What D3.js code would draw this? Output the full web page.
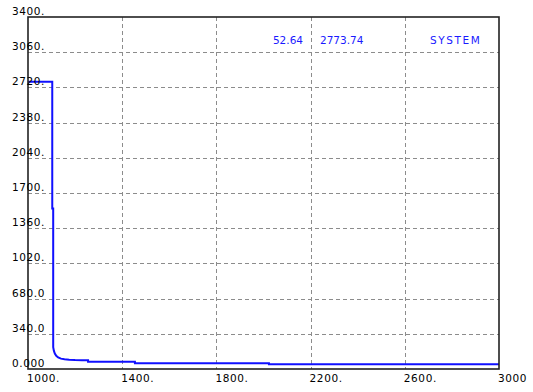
<!DOCTYPE html>
<html>
<head>
<meta charset="utf-8">
<script src="https://cdn.jsdelivr.net/npm/d3@7"></script>
<style>
  html, body { margin: 0; padding: 0; background: #fff; }
  svg { display: block; }
  text { font-family: "DejaVu Sans", Verdana, sans-serif; }
</style>
</head>
<body>
<svg id="chart" width="533" height="392"></svg>
<script>
// Time axis (x) and response (y) of the SYSTEM trace
const xValues = [1000, 1103, 1103, 1107, 1107, 1110, 1114, 1120, 1128, 1140, 1155, 1175, 1200, 1230, 1255, 1255, 1454, 1454, 2023, 2023, 3000];
const yValues = [2773.74, 2773.74, 1550, 1550, 210, 175, 150, 128, 112, 100, 94, 90, 87, 85, 84, 70, 70, 55, 55, 45, 45];

const xTicks = [1000, 1400, 1800, 2200, 2600, 3000];
const xTickLabels = ["1000.", "1400.", "1800.", "2200.", "2600.", "3000"];
const yTicks = [0, 340, 680, 1020, 1360, 1700, 2040, 2380, 2720, 3060, 3400];
const yTickLabels = ["0.000", "340.0", "680.0", "1020.", "1360.", "1700.", "2040.", "2380.", "2720.", "3060.", "3400."];

const readout = ["52.64", "2773.74", "SYSTEM"];

const svg = d3.select("#chart");
const plotL = 28, plotR = 499, plotT = 17, plotB = 369;

const x = d3.scaleLinear().domain([1000, 3000]).range([plotL, plotR]);
const y = d3.scaleLinear().domain([0, 3400]).range([plotB, plotT]);

// Dashed grid
const grid = svg.append("g")
  .attr("stroke", "#8c8c8c")
  .attr("stroke-width", 1)
  .attr("stroke-dasharray", "4,3");

grid.selectAll("line.v")
  .data(xTicks.slice(1, -1))
  .join("line")
  .attr("class", "v")
  .attr("x1", d => Math.round(x(d)) + 0.5)
  .attr("x2", d => Math.round(x(d)) + 0.5)
  .attr("y1", plotT)
  .attr("y2", plotB);

grid.selectAll("line.h")
  .data(yTicks.slice(1, -1))
  .join("line")
  .attr("class", "h")
  .attr("x1", plotL)
  .attr("x2", plotR)
  .attr("y1", d => Math.round(y(d)) + 0.5)
  .attr("y2", d => Math.round(y(d)) + 0.5);

// Data trace
const pts = xValues.map((v, i) => [v, yValues[i]]);
svg.append("path")
  .datum(pts)
  .attr("fill", "none")
  .attr("stroke", "#1010ff")
  .attr("stroke-width", 2)
  .attr("d", d3.line().x(d => x(d[0])).y(d => y(d[1])));

// Frame
svg.append("rect")
  .attr("x", plotL)
  .attr("y", plotT)
  .attr("width", plotR - plotL)
  .attr("height", plotB - plotT)
  .attr("fill", "none")
  .attr("stroke", "#222")
  .attr("stroke-width", 1.6);

// Y tick labels, sitting just above their grid lines
svg.append("g").selectAll("text")
  .data(yTicks)
  .join("text")
  .attr("x", 12)
  .attr("y", d => y(d) - 2)
  .attr("font-size", 10.5)
  .attr("letter-spacing", 0.6)
  .attr("fill", "#000")
  .text((d, i) => yTickLabels[i]);

// X tick labels, starting at their grid lines
svg.append("g").selectAll("text")
  .data(xTicks)
  .join("text")
  .attr("x", d => x(d) - 1)
  .attr("y", 382)
  .attr("font-size", 10.5)
  .attr("letter-spacing", 0.6)
  .attr("fill", "#000")
  .text((d, i) => xTickLabels[i]);

// Cursor readout
const ro = svg.append("g").attr("fill", "#1a1aff").attr("font-size", 10.5);
ro.append("text").attr("x", 303).attr("y", 44).attr("text-anchor", "end").text(readout[0]);
ro.append("text").attr("x", 320).attr("y", 44).text(readout[1]);
ro.append("text").attr("x", 430).attr("y", 44).attr("letter-spacing", 1.6).text(readout[2]);
</script>
</body>
</html>
